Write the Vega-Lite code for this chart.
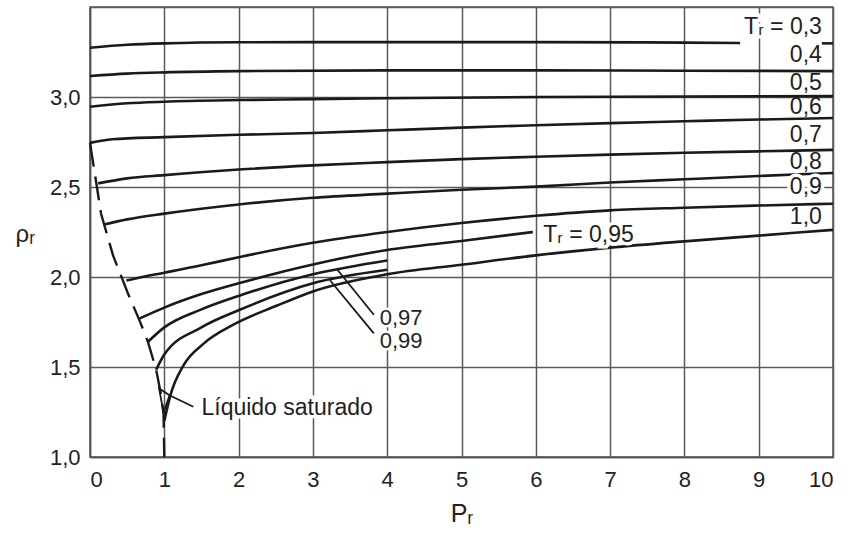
{
  "$schema": "https://vega.github.io/schema/vega-lite/v6.json",
  "width": 743,
  "height": 450,
  "autosize": {"type": "none"},
  "padding": {"left": 90, "top": 7, "right": 21, "bottom": 78},
  "background": "white",
  "config": {
    "view": {"stroke": "#555", "strokeWidth": 1.5},
    "axis": {
      "domainColor": "#555", "domainWidth": 1.5,
      "gridColor": "#5a5a5a", "gridWidth": 1.5, "gridOpacity": 1,
      "ticks": false,
      "labelFont": "Liberation Sans", "labelFontSize": 22, "labelColor": "#222",
      "titleFont": "Liberation Sans", "titleFontWeight": "normal", "titleColor": "#222"
    }
  },
  "datasets": {
    "curves": [
      {"id": "0.3a", "P": 0, "rho": 3.274}, {"id": "0.3a", "P": 0.5, "rho": 3.29}, {"id": "0.3a", "P": 1, "rho": 3.298}, {"id": "0.3a", "P": 2, "rho": 3.304}, {"id": "0.3a", "P": 4, "rho": 3.305}, {"id": "0.3a", "P": 6, "rho": 3.305}, {"id": "0.3a", "P": 8, "rho": 3.302}, {"id": "0.3a", "P": 8.75, "rho": 3.3},
      {"id": "0.3b", "P": 9.85, "rho": 3.298}, {"id": "0.3b", "P": 10, "rho": 3.298},
      {"id": "0.4", "P": 0, "rho": 3.117}, {"id": "0.4", "P": 0.5, "rho": 3.13}, {"id": "0.4", "P": 1, "rho": 3.137}, {"id": "0.4", "P": 2, "rho": 3.144}, {"id": "0.4", "P": 4, "rho": 3.148}, {"id": "0.4", "P": 6, "rho": 3.148}, {"id": "0.4", "P": 8, "rho": 3.146}, {"id": "0.4", "P": 10, "rho": 3.144},
      {"id": "0.5", "P": 0, "rho": 2.946}, {"id": "0.5", "P": 0.5, "rho": 2.965}, {"id": "0.5", "P": 1, "rho": 2.974}, {"id": "0.5", "P": 2, "rho": 2.983}, {"id": "0.5", "P": 3, "rho": 2.988}, {"id": "0.5", "P": 4, "rho": 2.993}, {"id": "0.5", "P": 6, "rho": 3.0}, {"id": "0.5", "P": 8, "rho": 3.003}, {"id": "0.5", "P": 10, "rho": 3.005},
      {"id": "0.6", "P": 0, "rho": 2.745}, {"id": "0.6", "P": 0.3, "rho": 2.765}, {"id": "0.6", "P": 1, "rho": 2.777}, {"id": "0.6", "P": 2, "rho": 2.79}, {"id": "0.6", "P": 3, "rho": 2.8}, {"id": "0.6", "P": 4, "rho": 2.815}, {"id": "0.6", "P": 5, "rho": 2.83}, {"id": "0.6", "P": 6, "rho": 2.843}, {"id": "0.6", "P": 7, "rho": 2.855}, {"id": "0.6", "P": 8, "rho": 2.865}, {"id": "0.6", "P": 9, "rho": 2.875}, {"id": "0.6", "P": 10, "rho": 2.883},
      {"id": "0.7", "P": 0.11, "rho": 2.52}, {"id": "0.7", "P": 0.5, "rho": 2.548}, {"id": "0.7", "P": 1, "rho": 2.566}, {"id": "0.7", "P": 2, "rho": 2.597}, {"id": "0.7", "P": 3, "rho": 2.62}, {"id": "0.7", "P": 4, "rho": 2.638}, {"id": "0.7", "P": 5, "rho": 2.655}, {"id": "0.7", "P": 6, "rho": 2.668}, {"id": "0.7", "P": 7, "rho": 2.68}, {"id": "0.7", "P": 8, "rho": 2.69}, {"id": "0.7", "P": 9, "rho": 2.698}, {"id": "0.7", "P": 10, "rho": 2.706},
      {"id": "0.8", "P": 0.19, "rho": 2.292}, {"id": "0.8", "P": 0.5, "rho": 2.32}, {"id": "0.8", "P": 1, "rho": 2.352}, {"id": "0.8", "P": 2, "rho": 2.403}, {"id": "0.8", "P": 3, "rho": 2.44}, {"id": "0.8", "P": 4, "rho": 2.463}, {"id": "0.8", "P": 5, "rho": 2.485}, {"id": "0.8", "P": 6, "rho": 2.502}, {"id": "0.8", "P": 7, "rho": 2.525}, {"id": "0.8", "P": 8, "rho": 2.543}, {"id": "0.8", "P": 9, "rho": 2.561}, {"id": "0.8", "P": 10, "rho": 2.578},
      {"id": "0.9", "P": 0.49, "rho": 1.98}, {"id": "0.9", "P": 0.7, "rho": 2.0}, {"id": "0.9", "P": 1, "rho": 2.024}, {"id": "0.9", "P": 1.5, "rho": 2.065}, {"id": "0.9", "P": 2, "rho": 2.11}, {"id": "0.9", "P": 3, "rho": 2.19}, {"id": "0.9", "P": 4, "rho": 2.25}, {"id": "0.9", "P": 5, "rho": 2.3}, {"id": "0.9", "P": 6, "rho": 2.34}, {"id": "0.9", "P": 7, "rho": 2.37}, {"id": "0.9", "P": 8, "rho": 2.385}, {"id": "0.9", "P": 9, "rho": 2.397}, {"id": "0.9", "P": 10, "rho": 2.407},
      {"id": "0.95", "P": 0.67, "rho": 1.77}, {"id": "0.95", "P": 1, "rho": 1.83}, {"id": "0.95", "P": 1.5, "rho": 1.905}, {"id": "0.95", "P": 2, "rho": 1.965}, {"id": "0.95", "P": 3, "rho": 2.07}, {"id": "0.95", "P": 4, "rho": 2.15}, {"id": "0.95", "P": 5, "rho": 2.2}, {"id": "0.95", "P": 5.96, "rho": 2.25},
      {"id": "0.97", "P": 0.78, "rho": 1.64}, {"id": "0.97", "P": 1, "rho": 1.72}, {"id": "0.97", "P": 1.5, "rho": 1.82}, {"id": "0.97", "P": 2, "rho": 1.895}, {"id": "0.97", "P": 3, "rho": 2.015}, {"id": "0.97", "P": 4, "rho": 2.092},
      {"id": "0.99", "P": 0.89, "rho": 1.485}, {"id": "0.99", "P": 1, "rho": 1.57}, {"id": "0.99", "P": 1.5, "rho": 1.72}, {"id": "0.99", "P": 2, "rho": 1.815}, {"id": "0.99", "P": 3, "rho": 1.965}, {"id": "0.99", "P": 4, "rho": 2.04},
      {"id": "1.0", "P": 1.0, "rho": 1.2}, {"id": "1.0", "P": 1.08, "rho": 1.34}, {"id": "1.0", "P": 1.26, "rho": 1.51}, {"id": "1.0", "P": 1.53, "rho": 1.63}, {"id": "1.0", "P": 1.93, "rho": 1.735}, {"id": "1.0", "P": 2.51, "rho": 1.84}, {"id": "1.0", "P": 3, "rho": 1.92}, {"id": "1.0", "P": 4, "rho": 2.015}, {"id": "1.0", "P": 5, "rho": 2.068}, {"id": "1.0", "P": 6, "rho": 2.12}, {"id": "1.0", "P": 7, "rho": 2.163}, {"id": "1.0", "P": 8, "rho": 2.198}, {"id": "1.0", "P": 9, "rho": 2.23}, {"id": "1.0", "P": 10, "rho": 2.262}
    ],
    "sat": [
      {"k": 0, "P": 0, "rho": 2.745}, {"k": 1, "P": 0.15, "rho": 2.35}, {"k": 2, "P": 0.31, "rho": 2.12}, {"k": 3, "P": 0.51, "rho": 1.91}, {"k": 4, "P": 0.67, "rho": 1.755}, {"k": 5, "P": 0.78, "rho": 1.64}, {"k": 6, "P": 0.89, "rho": 1.485}, {"k": 7, "P": 0.95, "rho": 1.36}, {"k": 8, "P": 0.99, "rho": 1.24}, {"k": 9, "P": 1.0, "rho": 1.0}
    ],
    "leaders": [
      {"id": "l97", "k": 0, "P": 3.33, "rho": 2.04}, {"id": "l97", "k": 1, "P": 3.82, "rho": 1.79},
      {"id": "l99", "k": 0, "P": 3.23, "rho": 1.982}, {"id": "l99", "k": 1, "P": 3.82, "rho": 1.687},
      {"id": "liq", "k": 0, "P": 1.39, "rho": 1.279}, {"id": "liq", "k": 1, "P": 1.07, "rho": 1.343}, {"id": "liq", "k": 2, "P": 0.93, "rho": 1.381}, {"id": "liq", "k": 3, "P": 0.99, "rho": 1.245}, {"id": "liq", "k": 4, "P": 1.07, "rho": 1.343}
    ],
    "rlabels": [
      {"text": "Tᵣ = 0,3", "P": 9.85, "rho": 3.39},
      {"text": "0,4", "P": 9.85, "rho": 3.233},
      {"text": "0,5", "P": 9.85, "rho": 3.078},
      {"text": "0,6", "P": 9.85, "rho": 2.942},
      {"text": "0,7", "P": 9.85, "rho": 2.79},
      {"text": "0,8", "P": 9.85, "rho": 2.64},
      {"text": "0,9", "P": 9.85, "rho": 2.5},
      {"text": "1,0", "P": 9.85, "rho": 2.335}
    ],
    "llabels": [
      {"text": "Tᵣ = 0,95", "P": 6.1, "rho": 2.231},
      {"text": "Líquido saturado", "P": 1.5, "rho": 1.275}
    ],
    "nlabels": [
      {"text": "0,97", "P": 3.9, "rho": 1.773},
      {"text": "0,99", "P": 3.9, "rho": 1.645}
    ]
  },
  "encoding": {
    "x": {
      "field": "P", "type": "quantitative",
      "scale": {"domain": [0, 10], "nice": false, "zero": false},
      "axis": {
        "values": [0, 1, 2, 3, 4, 5, 6, 7, 8, 9, 10],
        "labelPadding": 12,
        "title": "Pᵣ", "titleFontSize": 25, "titleY": 56, "titleBaseline": "middle"
      }
    },
    "y": {
      "field": "rho", "type": "quantitative",
      "scale": {"domain": [1, 3.5], "nice": false, "zero": false},
      "axis": {
        "values": [1, 1.5, 2, 2.5, 3, 3.5],
        "labelExpr": "datum.value > 3.4 ? '' : replace(format(datum.value, '.1f'), '.', ',')",
        "labelPadding": 10,
        "title": "ρᵣ", "titleFontSize": 24, "titleAngle": 0,
        "titleX": -75, "titleY": 227, "titleAlign": "left", "titleBaseline": "middle"
      }
    }
  },
  "layer": [
    {
      "data": {"name": "curves"},
      "mark": {"type": "line", "color": "#1a1a1a", "strokeWidth": 2.6, "interpolate": "monotone"},
      "encoding": {"detail": {"field": "id"}}
    },
    {
      "data": {"name": "sat"},
      "mark": {"type": "line", "color": "#1a1a1a", "strokeWidth": 2.4, "strokeDash": [24, 10]},
      "encoding": {"order": {"field": "k"}}
    },
    {
      "data": {"name": "leaders"},
      "mark": {"type": "line", "color": "#1a1a1a", "strokeWidth": 1.8},
      "encoding": {"detail": {"field": "id"}, "order": {"field": "k"}}
    },
    {
      "data": {"name": "rlabels"},
      "transform": [{"filter": "datum.text == '0,9' || datum.text == 'Tᵣ = 0,3'"}],
      "mark": {"type": "text", "align": "right", "baseline": "middle", "font": "Liberation Sans", "fontSize": 23, "stroke": "white", "strokeWidth": 7, "fill": "white"},
      "encoding": {"text": {"field": "text"}}
    },
    {
      "data": {"name": "rlabels"},
      "mark": {"type": "text", "align": "right", "baseline": "middle", "font": "Liberation Sans", "fontSize": 23, "color": "#222"},
      "encoding": {"text": {"field": "text"}}
    },
    {
      "data": {"name": "llabels"},
      "mark": {"type": "text", "align": "left", "baseline": "middle", "font": "Liberation Sans", "fontSize": 23, "stroke": "white", "strokeWidth": 7, "fill": "white"},
      "encoding": {"text": {"field": "text"}}
    },
    {
      "data": {"name": "llabels"},
      "mark": {"type": "text", "align": "left", "baseline": "middle", "font": "Liberation Sans", "fontSize": 23, "color": "#222"},
      "encoding": {"text": {"field": "text"}}
    },
    {
      "data": {"name": "nlabels"},
      "mark": {"type": "text", "align": "left", "baseline": "middle", "font": "Liberation Sans", "fontSize": 22, "stroke": "white", "strokeWidth": 5, "fill": "white"},
      "encoding": {"text": {"field": "text"}}
    },
    {
      "data": {"name": "nlabels"},
      "mark": {"type": "text", "align": "left", "baseline": "middle", "font": "Liberation Sans", "fontSize": 22, "color": "#222"},
      "encoding": {"text": {"field": "text"}}
    }
  ]
}
